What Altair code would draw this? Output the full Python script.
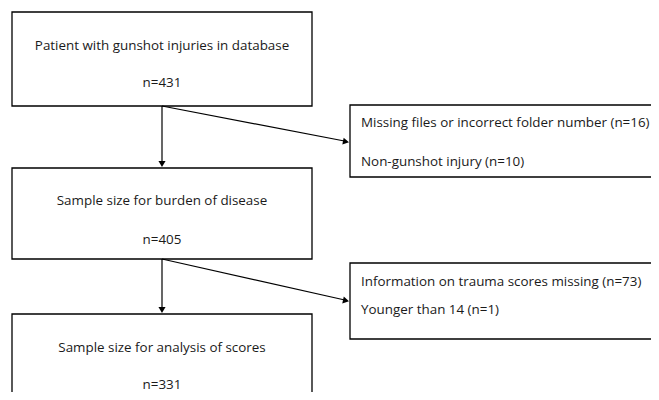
import altair as alt
import pandas as pd

# ---- content ----
main_labels = ["Patient with gunshot injuries in database",
               "Sample size for burden of disease",
               "Sample size for analysis of scores"]
main_counts = [431, 405, 331]
excl_labels = [["Missing files or incorrect folder number", "Non-gunshot injury"],
               ["Information on trauma scores missing", "Younger than 14"]]
excl_counts = [[16, 10], [73, 1]]

# ---- layout (pixel space of the page) ----
main_x = [12, 312]
main_top = [12, 168, 314]
main_bot = [106, 259, 405]
main_title_y = [46, 201, 348]
main_n_y = [83, 240, 385]
excl_x = [350, 670]
excl_top = [105, 263]
excl_bot = [177, 339]
excl_line_y = [[123, 162], [282, 310]]
excl_text_x = 361
cx = 162

FONT = "Open Sans"
FS = 13.4

boxes = pd.DataFrame(
    [{"x": main_x[0], "x2": main_x[1], "y": main_top[i], "y2": main_bot[i]} for i in range(3)]
    + [{"x": excl_x[0], "x2": excl_x[1], "y": excl_top[i], "y2": excl_bot[i]} for i in range(2)]
)

center_text = pd.DataFrame(
    [{"x": cx, "y": main_title_y[i], "t": main_labels[i]} for i in range(3)]
    + [{"x": cx, "y": main_n_y[i], "t": f"n={main_counts[i]}"} for i in range(3)]
)

left_text = pd.DataFrame(
    [{"x": excl_text_x, "y": excl_line_y[i][j], "t": f"{excl_labels[i][j]} (n={excl_counts[i][j]})"}
     for i in range(2) for j in range(2)]
)

segs = pd.DataFrame([
    {"x": cx, "y": main_bot[0], "x2": cx, "y2": main_top[1] - 3},
    {"x": cx, "y": main_bot[1], "x2": cx, "y2": main_top[2] - 3},
    {"x": cx, "y": main_bot[0], "x2": excl_x[0] - 3, "y2": 141.5},
    {"x": cx, "y": main_bot[1], "x2": excl_x[0] - 3, "y2": 300.5},
])

heads = pd.DataFrame([
    {"x": cx, "y": main_top[1] - 4, "a": 90.0},
    {"x": cx, "y": main_top[2] - 4, "a": 90.0},
    {"x": excl_x[0] - 4, "y": 141.7, "a": 10.8},
    {"x": excl_x[0] - 4, "y": 300.7, "a": 12.6},
])

# chart sits at page offset (8, 8) and is 643x384 so the page needs no scrollbars
xs = alt.Scale(domain=[8, 651], range=[0, 643])
ys = alt.Scale(domain=[8, 392], range=[0, 384])

rect = alt.Chart(boxes).mark_rect(fill="white", stroke="black", strokeWidth=1.3, clip=True).encode(
    x=alt.X("x:Q", scale=xs, axis=None), x2="x2:Q",
    y=alt.Y("y:Q", scale=ys, axis=None), y2="y2:Q")

lines = alt.Chart(segs).mark_rule(color="black", strokeWidth=1.2).encode(
    x=alt.X("x:Q", scale=xs, axis=None), x2="x2:Q",
    y=alt.Y("y:Q", scale=ys, axis=None), y2="y2:Q")

arrow = alt.Chart(heads).mark_point(shape="triangle-right", filled=True, color="black",
                                    size=50, opacity=1).encode(
    x=alt.X("x:Q", scale=xs, axis=None),
    y=alt.Y("y:Q", scale=ys, axis=None),
    angle=alt.Angle("a:Q", scale=None))

ctext = alt.Chart(center_text).mark_text(font=FONT, fontSize=FS, align="center",
                                         baseline="middle", color="#1a1a1a").encode(
    x=alt.X("x:Q", scale=xs, axis=None),
    y=alt.Y("y:Q", scale=ys, axis=None),
    text="t:N")

ltext = alt.Chart(left_text).mark_text(font=FONT, fontSize=FS, align="left",
                                       baseline="middle", color="#1a1a1a").encode(
    x=alt.X("x:Q", scale=xs, axis=None),
    y=alt.Y("y:Q", scale=ys, axis=None),
    text="t:N")

chart = alt.layer(rect, lines, arrow, ctext, ltext).properties(
    width=643, height=384, padding=0, autosize=alt.AutoSizeParams(type="none")
).configure_view(stroke=None)

chart.save("out.html", embed_options={"renderer": "svg", "actions": False})
